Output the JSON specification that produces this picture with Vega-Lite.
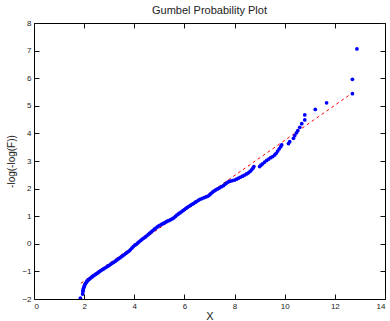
{
  "$schema": "https://vega.github.io/schema/vega-lite/v6.json",
  "width": 351,
  "height": 276,
  "autosize": "none",
  "padding": {"left": 34, "top": 23, "right": 5, "bottom": 22},
  "background": "white",
  "config": {
    "font": "Liberation Sans",
    "view": {"stroke": "black", "strokeWidth": 1},
    "axis": {
      "grid": false,
      "domain": false,
      "labelColor": "#222",
      "labelFontSize": 8,
      "titleFontWeight": "normal",
      "titleColor": "#222"
    }
  },
  "title": {"text": "Gumbel Probability Plot", "fontSize": 11, "fontWeight": "normal", "font": "Liberation Sans", "color": "#222", "offset": 3},
  "datasets": {
    "pts": [
      {"x":1.85,"y":-1.97},{"x":1.94,"y":-1.82},{"x":1.95,"y":-1.74},{"x":1.96,"y":-1.68},{"x":1.97,"y":-1.62},{"x":1.99,"y":-1.57},{"x":2.01,"y":-1.52},{"x":2.03,"y":-1.48},{"x":2.06,"y":-1.43},{"x":2.09,"y":-1.39},{"x":2.12,"y":-1.35},{"x":2.15,"y":-1.32},{"x":2.19,"y":-1.29},{"x":2.23,"y":-1.26},{"x":2.27,"y":-1.23},{"x":2.31,"y":-1.20},{"x":2.35,"y":-1.17},{"x":2.40,"y":-1.14},{"x":2.45,"y":-1.11},{"x":2.50,"y":-1.08},{"x":2.55,"y":-1.05},{"x":2.60,"y":-1.01},{"x":2.65,"y":-0.98},{"x":2.70,"y":-0.95},{"x":2.76,"y":-0.92},{"x":2.82,"y":-0.88},{"x":2.88,"y":-0.85},{"x":2.94,"y":-0.81},{"x":3.00,"y":-0.78},{"x":3.06,"y":-0.74},{"x":3.12,"y":-0.70},{"x":3.18,"y":-0.67},{"x":3.24,"y":-0.63},{"x":3.30,"y":-0.59},{"x":3.36,"y":-0.55},{"x":3.42,"y":-0.51},{"x":3.48,"y":-0.47},{"x":3.54,"y":-0.43},{"x":3.60,"y":-0.39},{"x":3.66,"y":-0.35},{"x":3.72,"y":-0.31},{"x":3.78,"y":-0.27},{"x":3.84,"y":-0.22},{"x":3.90,"y":-0.16},{"x":3.96,"y":-0.10},{"x":4.02,"y":-0.05},{"x":4.08,"y":-0.02},{"x":4.14,"y":0.03},{"x":4.20,"y":0.08},{"x":4.26,"y":0.12},{"x":4.32,"y":0.17},{"x":4.38,"y":0.21},{"x":4.44,"y":0.25},{"x":4.50,"y":0.29},{"x":4.56,"y":0.34},{"x":4.62,"y":0.39},{"x":4.68,"y":0.43},{"x":4.74,"y":0.48},{"x":4.80,"y":0.53},{"x":4.86,"y":0.57},{"x":4.92,"y":0.61},{"x":4.98,"y":0.65},{"x":5.04,"y":0.68},{"x":5.10,"y":0.71},{"x":5.16,"y":0.74},{"x":5.22,"y":0.77},{"x":5.28,"y":0.80},{"x":5.34,"y":0.83},{"x":5.40,"y":0.85},{"x":5.46,"y":0.88},{"x":5.52,"y":0.91},{"x":5.58,"y":0.94},{"x":5.64,"y":0.99},{"x":5.70,"y":1.04},{"x":5.76,"y":1.08},{"x":5.82,"y":1.12},{"x":5.88,"y":1.16},{"x":5.94,"y":1.20},{"x":6.00,"y":1.24},{"x":6.06,"y":1.28},{"x":6.12,"y":1.32},{"x":6.18,"y":1.36},{"x":6.24,"y":1.39},{"x":6.30,"y":1.43},{"x":6.36,"y":1.46},{"x":6.42,"y":1.50},{"x":6.48,"y":1.53},{"x":6.55,"y":1.57},{"x":6.62,"y":1.61},{"x":6.70,"y":1.64},{"x":6.78,"y":1.67},{"x":6.86,"y":1.70},{"x":6.94,"y":1.73},{"x":7.00,"y":1.77},{"x":7.06,"y":1.82},{"x":7.12,"y":1.87},{"x":7.18,"y":1.91},{"x":7.25,"y":1.95},{"x":7.32,"y":1.99},{"x":7.40,"y":2.03},{"x":7.48,"y":2.07},{"x":7.56,"y":2.11},{"x":7.62,"y":2.16},{"x":7.68,"y":2.20},{"x":7.75,"y":2.24},{"x":7.83,"y":2.27},{"x":7.92,"y":2.29},{"x":8.00,"y":2.31},{"x":8.08,"y":2.34},{"x":8.16,"y":2.38},{"x":8.24,"y":2.42},{"x":8.32,"y":2.45},{"x":8.40,"y":2.49},{"x":8.48,"y":2.53},{"x":8.55,"y":2.57},{"x":8.62,"y":2.62},{"x":8.68,"y":2.68},{"x":8.73,"y":2.74},{"x":8.77,"y":2.80},{"x":9.00,"y":2.80},{"x":9.05,"y":2.85},{"x":9.12,"y":2.90},{"x":9.20,"y":2.96},{"x":9.28,"y":3.02},{"x":9.36,"y":3.07},{"x":9.44,"y":3.12},{"x":9.52,"y":3.16},{"x":9.60,"y":3.22},{"x":9.66,"y":3.28},{"x":9.72,"y":3.36},{"x":9.78,"y":3.44},{"x":9.84,"y":3.52},{"x":9.88,"y":3.58},{"x":10.15,"y":3.63},{"x":10.20,"y":3.70},{"x":10.35,"y":3.82},{"x":10.40,"y":3.92},{"x":10.47,"y":4.02},{"x":10.52,"y":4.10},{"x":10.60,"y":4.22},{"x":10.68,"y":4.35},{"x":10.80,"y":4.49},{"x":10.80,"y":4.67},{"x":11.22,"y":4.87},{"x":11.67,"y":5.11},{"x":12.70,"y":5.44},{"x":12.70,"y":5.96},{"x":12.88,"y":7.06}
    ],
    "fit": [{"x": 1.87, "y": -1.43}, {"x": 12.72, "y": 5.48}]
  },
  "layer": [
    {
      "data": {"name": "fit"},
      "mark": {"type": "line", "color": "#ff0000", "strokeWidth": 1, "strokeDash": [3, 3], "clip": true},
      "encoding": {
        "x": {"field": "x", "type": "quantitative", "scale": {"domain": [0, 14], "nice": false}, "axis": {"orient": "top", "labels": false, "title": null, "tickColor": "#111111", "tickWidth": 1, "tickSize": -5, "zindex": 2, "values": [0,2,4,6,8,10,12,14]}},
        "y": {"field": "y", "type": "quantitative", "scale": {"domain": [-2, 8], "nice": false}, "axis": {"orient": "right", "labels": false, "title": null, "tickColor": "#111111", "tickWidth": 1, "tickSize": -5, "zindex": 2, "values": [-2,-1,0,1,2,3,4,5,6,7,8]}}
      }
    },
    {
      "data": {"name": "pts"},
      "mark": {"type": "point", "filled": true, "color": "#0000ff", "size": 14, "opacity": 1, "clip": true},
      "encoding": {
        "x": {"field": "x", "type": "quantitative", "scale": {"domain": [0, 14], "nice": false}, "axis": {"orient": "bottom", "title": "X", "tickColor": "#111111", "tickWidth": 1, "tickSize": -5, "zindex": 2, "labelPadding": 8, "titleFontSize": 11, "titlePadding": 0, "values": [0,2,4,6,8,10,12,14]}},
        "y": {"field": "y", "type": "quantitative", "scale": {"domain": [-2, 8], "nice": false}, "axis": {"orient": "left", "title": "-log(-log(F))", "tickColor": "#111111", "tickWidth": 1, "tickSize": -5, "zindex": 2, "labelPadding": 8, "titleFontSize": 10, "titlePadding": 5, "values": [-2,-1,0,1,2,3,4,5,6,7,8]}}
      }
    }
  ],
  "resolve": {"axis": {"x": "independent", "y": "independent"}}
}
